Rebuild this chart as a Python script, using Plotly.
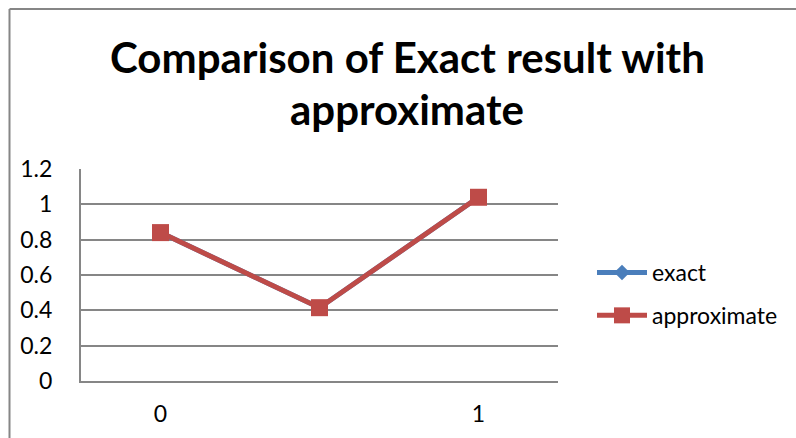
import plotly.graph_objects as go

categories = [0, 1, 2]
tick_labels = ["0", "1"]
tick_positions = [0, 2]
exact = [0.84, 0.415, 1.04]
approximate = [0.84, 0.415, 1.04]

L, R, T, B = 81, 558, 169, 381
W, H = 796, 438

def px(x):
    return (x - L) / (R - L)

def py(y):
    return (B - y) / (B - T)

fig = go.Figure()
fig.add_trace(go.Scatter(
    x=categories, y=exact, name="exact", mode="lines+markers", legendgroup="g1",
    line=dict(color="#4A7EBB", width=5),
    marker=dict(symbol="diamond", size=12, color="#4A7EBB"),
))
fig.add_trace(go.Scatter(
    x=categories, y=approximate, name="approximate", mode="lines+markers", legendgroup="g2",
    line=dict(color="#BE4B48", width=5),
    marker=dict(symbol="square", size=17, color="#BE4B48"),
))

font_family = "Lato, 'Open Sans', sans-serif"

fig.update_layout(
    width=W, height=H,
    margin=dict(l=L, r=W - R, t=T, b=H - B, pad=0),
    paper_bgcolor="white", plot_bgcolor="white",
    font=dict(family=font_family, size=22, color="black"),
    showlegend=True,
    legend=dict(x=px(592), y=py(251), xanchor="left", yanchor="top",
                font=dict(size=23), itemwidth=50, tracegroupgap=10,
                bgcolor="rgba(0,0,0,0)"),
    xaxis=dict(range=[-0.5, 2.5], tickvals=tick_positions, ticktext=tick_labels,
               showgrid=False, zeroline=False, showline=True, linecolor="#868686",
               linewidth=2, ticks="", ticklabelstandoff=11, fixedrange=True,
               tickfont=dict(size=23)),
    yaxis=dict(range=[0, 1.2], dtick=0.2, tickformat="~g", showgrid=True,
               gridcolor="#868686", gridwidth=1.5, zeroline=False, showline=True,
               linecolor="#868686", linewidth=2, ticks="", ticklabelstandoff=22,
               fixedrange=True, tickfont=dict(size=23)),
    shapes=[
        dict(type="line", xref="paper", yref="paper", x0=px(9.5), x1=px(796), y0=py(9), y1=py(9),
             line=dict(color="#868686", width=2)),
        dict(type="line", xref="paper", yref="paper", x0=px(9.5), x1=px(9.5), y0=py(9), y1=py(438),
             line=dict(color="#868686", width=2)),
    ],
    annotations=[
        dict(text="<b>Comparison of Exact result with</b>", xref="paper", yref="paper",
             x=px(407), y=py(57), xanchor="center", yanchor="middle", showarrow=False,
             font=dict(size=42, family=font_family)),
        dict(text="<b>approximate</b>", xref="paper", yref="paper",
             x=px(407), y=py(109), xanchor="center", yanchor="middle", showarrow=False,
             font=dict(size=42, family=font_family)),
    ],
)

fig.write_html("out.html")
